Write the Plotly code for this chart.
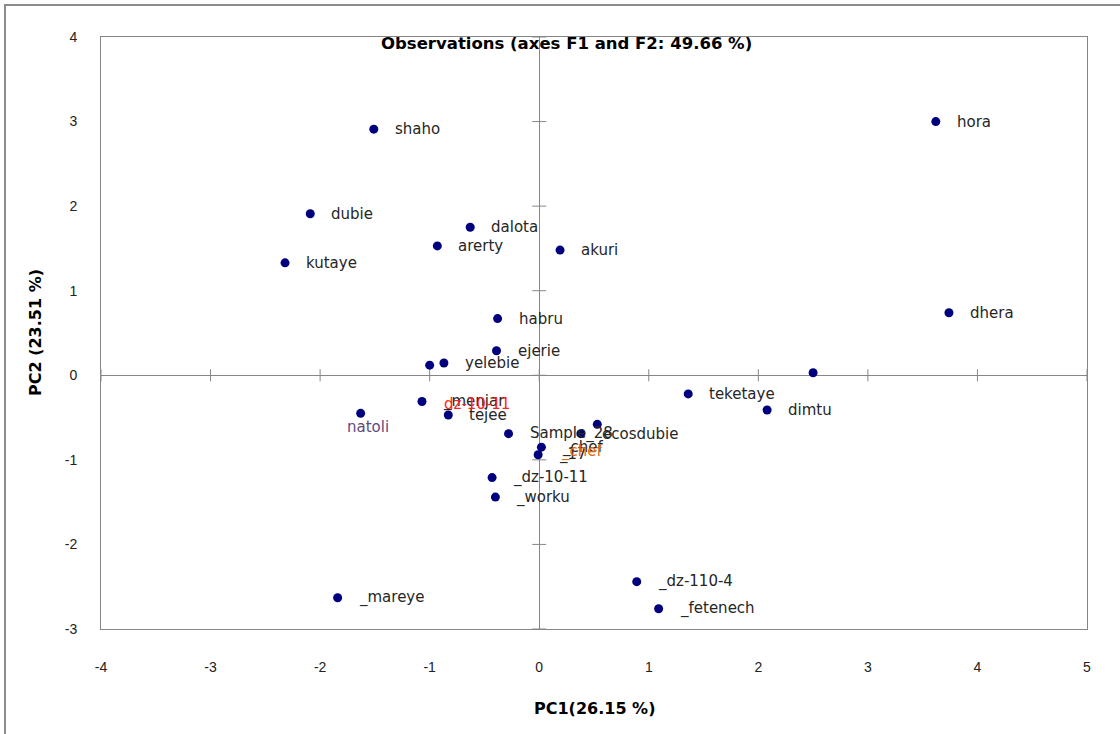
import plotly.graph_objects as go

# ---- data ----
names = ["shaho", "hora", "dubie", "dalota", "arerty", "akuri", "kutaye", "dhera",
         "habru", "ejerie", "", "yelebie", "", "teketaye", "dimtu", "_menjar",
         "natoli", "tejee", "Sample_28", "", "ecosdubie", "_chef", "_17",
         "_dz-10-11", "_worku", "_dz-110-4", "_fetenech", "_mareye"]
pc1 = [-1.51, 3.62, -2.09, -0.63, -0.93, 0.19, -2.32, 3.74,
       -0.38, -0.39, -1.00, -0.87, 2.50, 1.36, 2.08, -1.07,
       -1.63, -0.83, -0.28, 0.53, 0.38, 0.02, -0.01,
       -0.43, -0.40, 0.89, 1.09, -1.84]
pc2 = [2.91, 3.00, 1.91, 1.75, 1.53, 1.48, 1.33, 0.74,
       0.67, 0.29, 0.12, 0.145, 0.03, -0.22, -0.41, -0.31,
       -0.45, -0.47, -0.69, -0.58, -0.69, -0.85, -0.94,
       -1.21, -1.44, -2.44, -2.76, -2.63]
# points whose dark label is hidden in the reference
hidden_labels = ["natoli"]
# coloured group labels: (text, attached point)
group_labels = ["dz-10-11", "natoli", "_chef"]
group_points = ["_menjar", "natoli", "_chef"]

x_ticks = [-4, -3, -2, -1, 0, 1, 2, 3, 4, 5]
y_ticks = [-3, -2, -1, 0, 1, 2, 3, 4]
x_tick_labels = ["-4", "-3", "-2", "-1", "0", "1", "2", "3", "4", "5"]
y_tick_labels = ["-3", "-2", "-1", "0", "1", "2", "3", "4"]

title_text = "Observations (axes F1 and F2: 49.66 %)"
x_title = "PC1(26.15 %)"
y_title = "PC2 (23.51 %)"

# ---- figure ----
W, H = 1120, 734
L, R, T, B = 101, 33, 37, 105
AX = "#868686"

fig = go.Figure()
fig.add_trace(go.Scatter(
    x=pc1, y=pc2, mode="markers",
    marker=dict(size=9, color="#00007f", line=dict(width=0)),
    hoverinfo="text", text=names, showlegend=False,
))

ann = []
label_font = dict(family="DejaVu Sans", size=15, color="#262626")
for n, xv, yv in zip(names, pc1, pc2):
    if not n or n in hidden_labels:
        continue
    ann.append(dict(x=xv, y=yv, xref="x", yref="y", text=n, showarrow=False,
                    xanchor="left", yanchor="middle", xshift=19, font=label_font))

group_style = {
    "dz-10-11": dict(color="#ff2020", xanchor="left", xshift=20, yshift=-2),
    "natoli": dict(color="#604a7b", xanchor="center", xshift=7, yshift=-14),
    "_chef": dict(color="#e46c0a", xanchor="left", xshift=18, yshift=-4),
}
for g, p in zip(group_labels, group_points):
    i = names.index(p)
    st = group_style[g]
    ann.append(dict(x=pc1[i], y=pc2[i], xref="x", yref="y", text=g, showarrow=False,
                    xanchor=st["xanchor"], yanchor="middle", xshift=st["xshift"],
                    yshift=st["yshift"],
                    font=dict(family="DejaVu Sans", size=15, color=st["color"])))

# title and axis titles
bold_font = dict(family="DejaVu Sans", size=16, color="#000000")
ann.append(dict(x=(566 - L) / (W - L - R), y=1, xref="paper", yref="paper",
                text="<b>" + title_text + "</b>", showarrow=False,
                xanchor="center", yanchor="middle", yshift=-6,
                font=dict(family="DejaVu Sans", size=16.5, color="#000000")))
ann.append(dict(x=0.5, y=0, xref="paper", yref="paper",
                text="<b>" + x_title + "</b>", showarrow=False,
                xanchor="center", yanchor="middle", yshift=-79, font=bold_font))
ann.append(dict(x=0, y=0.5, xref="paper", yref="paper",
                text="<b>" + y_title + "</b>", showarrow=False, textangle=-90,
                xanchor="center", yanchor="middle", xshift=-66, font=bold_font))

shapes = []
# cross tick marks on the zero axes
for t in x_ticks:
    shapes.append(dict(type="line", xref="x", yref="y", x0=t, x1=t,
                       ysizemode="pixel", yanchor=0, y0=-6, y1=6,
                       line=dict(color=AX, width=1), layer="below"))
for t in y_ticks:
    shapes.append(dict(type="line", xref="x", yref="y", y0=t, y1=t,
                       xsizemode="pixel", xanchor=0, x0=-7, x1=7,
                       line=dict(color=AX, width=1), layer="below"))
# outer chart frame (cropped at right and bottom)
pw, ph = W - L - R, H - T - B
shapes.append(dict(type="rect", xref="paper", yref="paper",
                   x0=(5 - L) / pw, x1=1.3, y0=-0.5, y1=(H - B - 5) / ph,
                   line=dict(color="#8c8c8c", width=2), fillcolor="rgba(0,0,0,0)"))

tick_font = dict(family="Liberation Sans", size=14, color="#222")
fig.update_layout(
    width=W, height=H,
    margin=dict(l=L, r=R, t=T, b=B),
    paper_bgcolor="white", plot_bgcolor="white",
    annotations=ann, shapes=shapes,
    xaxis=dict(range=[-4, 5], tickvals=x_ticks, ticktext=x_tick_labels,
               showgrid=False, zeroline=True, zerolinecolor=AX, zerolinewidth=1,
               showline=True, mirror=True, linecolor=AX, linewidth=1,
               ticks="", ticklabelstandoff=25, tickfont=tick_font),
    yaxis=dict(range=[-3, 4], tickvals=y_ticks, ticktext=y_tick_labels,
               showgrid=False, zeroline=True, zerolinecolor=AX, zerolinewidth=1,
               showline=True, mirror=True, linecolor=AX, linewidth=1,
               ticks="", ticklabelstandoff=20, tickfont=tick_font),
)

fig.write_html("out.html")
